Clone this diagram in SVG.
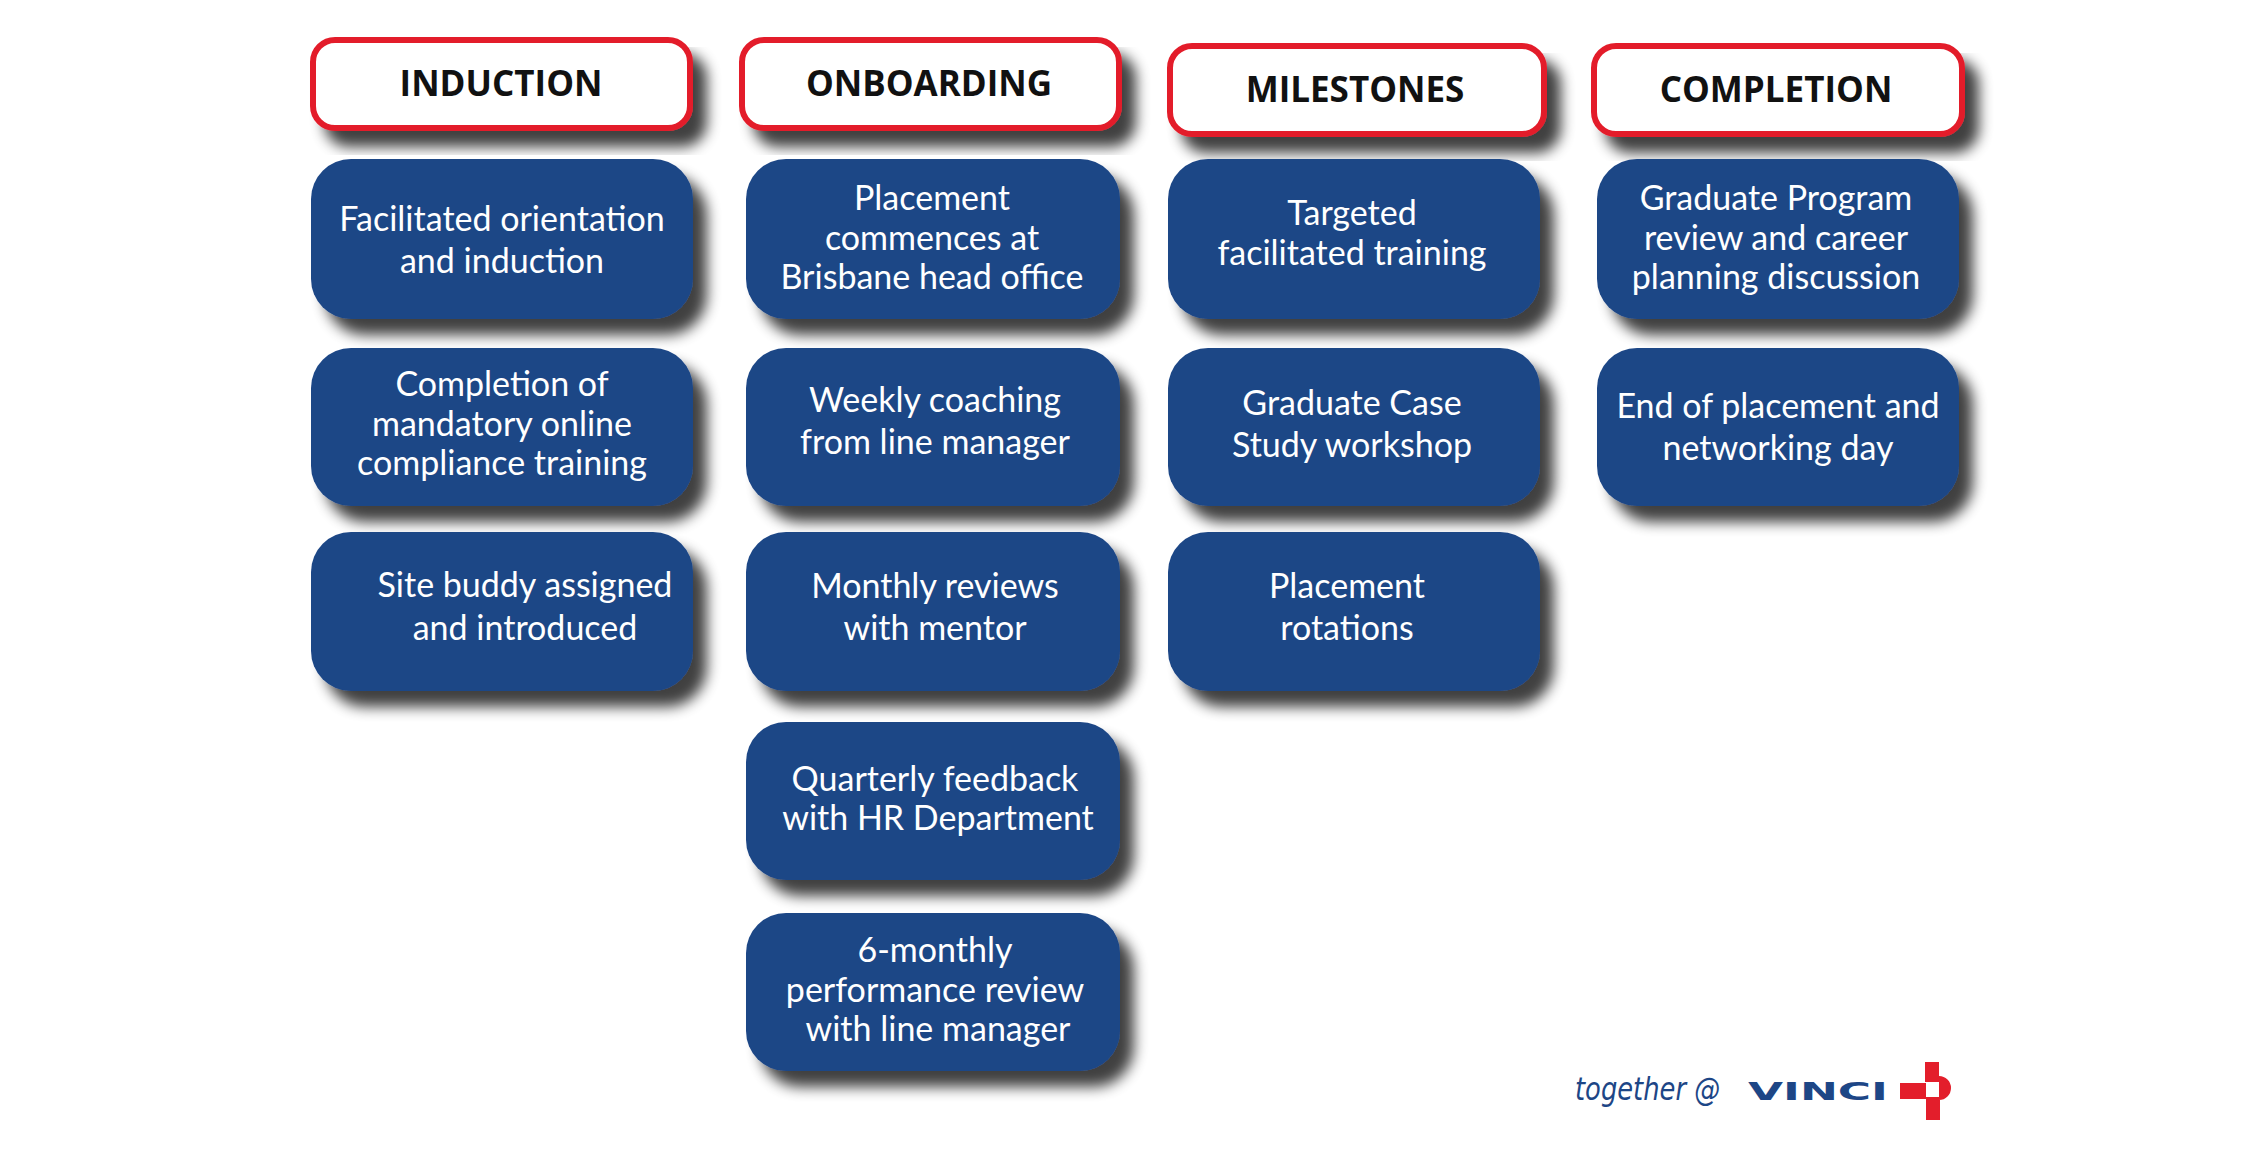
<svg xmlns="http://www.w3.org/2000/svg" width="2260" height="1157" viewBox="0 0 2260 1157">
<defs>
<filter id="sh" x="-10%" y="-10%" width="130%" height="140%">
<feGaussianBlur in="SourceAlpha" stdDeviation="7"/>
<feOffset dx="14" dy="16"/>
<feComponentTransfer><feFuncA type="linear" slope="0.75"/></feComponentTransfer>
<feMerge><feMergeNode/><feMergeNode in="SourceGraphic"/></feMerge>
</filter>
</defs>
<style>
.h rect{fill:#fff;stroke:#e31e2b;stroke-width:6;filter:url(#sh)}
.h text{font-family:"Open Sans","Noto Sans",sans-serif;font-weight:bold;font-size:35px;fill:#111;text-anchor:middle}
.b rect{fill:#1d4686;filter:url(#sh)}
.b text{font-family:Lato,"Noto Sans",sans-serif;font-size:34px;fill:#fff;text-anchor:middle}
</style>
<rect width="2260" height="1157" fill="#fff"/>
<g id="h1" class="h"><rect x="313" y="40" width="377" height="88" rx="22"/><text x="501" y="96">INDUCTION</text></g>
<g id="h2" class="h"><rect x="742" y="40" width="377" height="88" rx="22"/><text x="929" y="96">ONBOARDING</text></g>
<g id="h3" class="h"><rect x="1170" y="46" width="374" height="88" rx="22"/><text x="1355" y="102">MILESTONES</text></g>
<g id="h4" class="h"><rect x="1594" y="46" width="368" height="88" rx="22"/><text x="1776" y="102">COMPLETION</text></g>

<g id="b11" class="b"><rect x="311" y="159" width="382" height="160" rx="40"/><text x="502" y="231">Facilitated orientation</text><text x="502" y="273">and induction</text></g>
<g id="b12" class="b"><rect x="311" y="348" width="382" height="158" rx="40"/><text x="502" y="396">Completion of</text><text x="502" y="436">mandatory online</text><text x="502" y="475">compliance training</text></g>
<g id="b13" class="b"><rect x="311" y="532" width="382" height="159" rx="40"/><text x="525" y="597">Site buddy assigned</text><text x="525" y="640">and introduced</text></g>

<g id="b21" class="b"><rect x="746" y="159" width="374" height="160" rx="40"/><text x="932" y="210">Placement</text><text x="932" y="250">commences at</text><text x="932" y="289">Brisbane head office</text></g>
<g id="b22" class="b"><rect x="746" y="348" width="374" height="158" rx="40"/><text x="935" y="412">Weekly coaching</text><text x="935" y="454">from line manager</text></g>
<g id="b23" class="b"><rect x="746" y="532" width="374" height="159" rx="40"/><text x="935" y="598">Monthly reviews</text><text x="935" y="640">with mentor</text></g>
<g id="b24" class="b"><rect x="746" y="722" width="374" height="158" rx="40"/><text x="935" y="791">Quarterly feedback</text><text x="938" y="830">with HR Department</text></g>
<g id="b25" class="b"><rect x="746" y="913" width="374" height="158" rx="40"/><text x="935" y="962">6-monthly</text><text x="935" y="1002">performance review</text><text x="938" y="1041">with line manager</text></g>

<g id="b31" class="b"><rect x="1168" y="159" width="372" height="160" rx="40"/><text x="1352" y="225">Targeted</text><text x="1352" y="265">facilitated training</text></g>
<g id="b32" class="b"><rect x="1168" y="348" width="372" height="158" rx="40"/><text x="1352" y="415">Graduate Case</text><text x="1352" y="457">Study workshop</text></g>
<g id="b33" class="b"><rect x="1168" y="532" width="372" height="159" rx="40"/><text x="1347" y="598">Placement</text><text x="1347" y="640">rotations</text></g>

<g id="b41" class="b"><rect x="1597" y="159" width="362" height="160" rx="40"/><text x="1776" y="210">Graduate Program</text><text x="1776" y="250">review and career</text><text x="1776" y="289">planning discussion</text></g>
<g id="b42" class="b"><rect x="1597" y="348" width="362" height="158" rx="40"/><text x="1778" y="418">End of placement and</text><text x="1778" y="460">networking day</text></g>

<g id="connectors"></g>

<g id="logo">
<text x="1575" y="1100" font-family="'DejaVu Sans','Noto Sans',sans-serif" font-style="italic" font-size="32" fill="#1d4686" textLength="145" lengthAdjust="spacingAndGlyphs">together @</text>
<text x="1748" y="1100" font-family="'DejaVu Sans',sans-serif" font-weight="bold" font-size="24" fill="#1d4686" textLength="140" lengthAdjust="spacingAndGlyphs">VINCI</text>
<path d="M1925 1062h14v20h-14zM1900 1083h26v16h-26zM1926 1097h14v23h-14zM1939 1076a12 12 0 1 1 0 24z" fill="#e31e2b"/>
</g>
</svg>
